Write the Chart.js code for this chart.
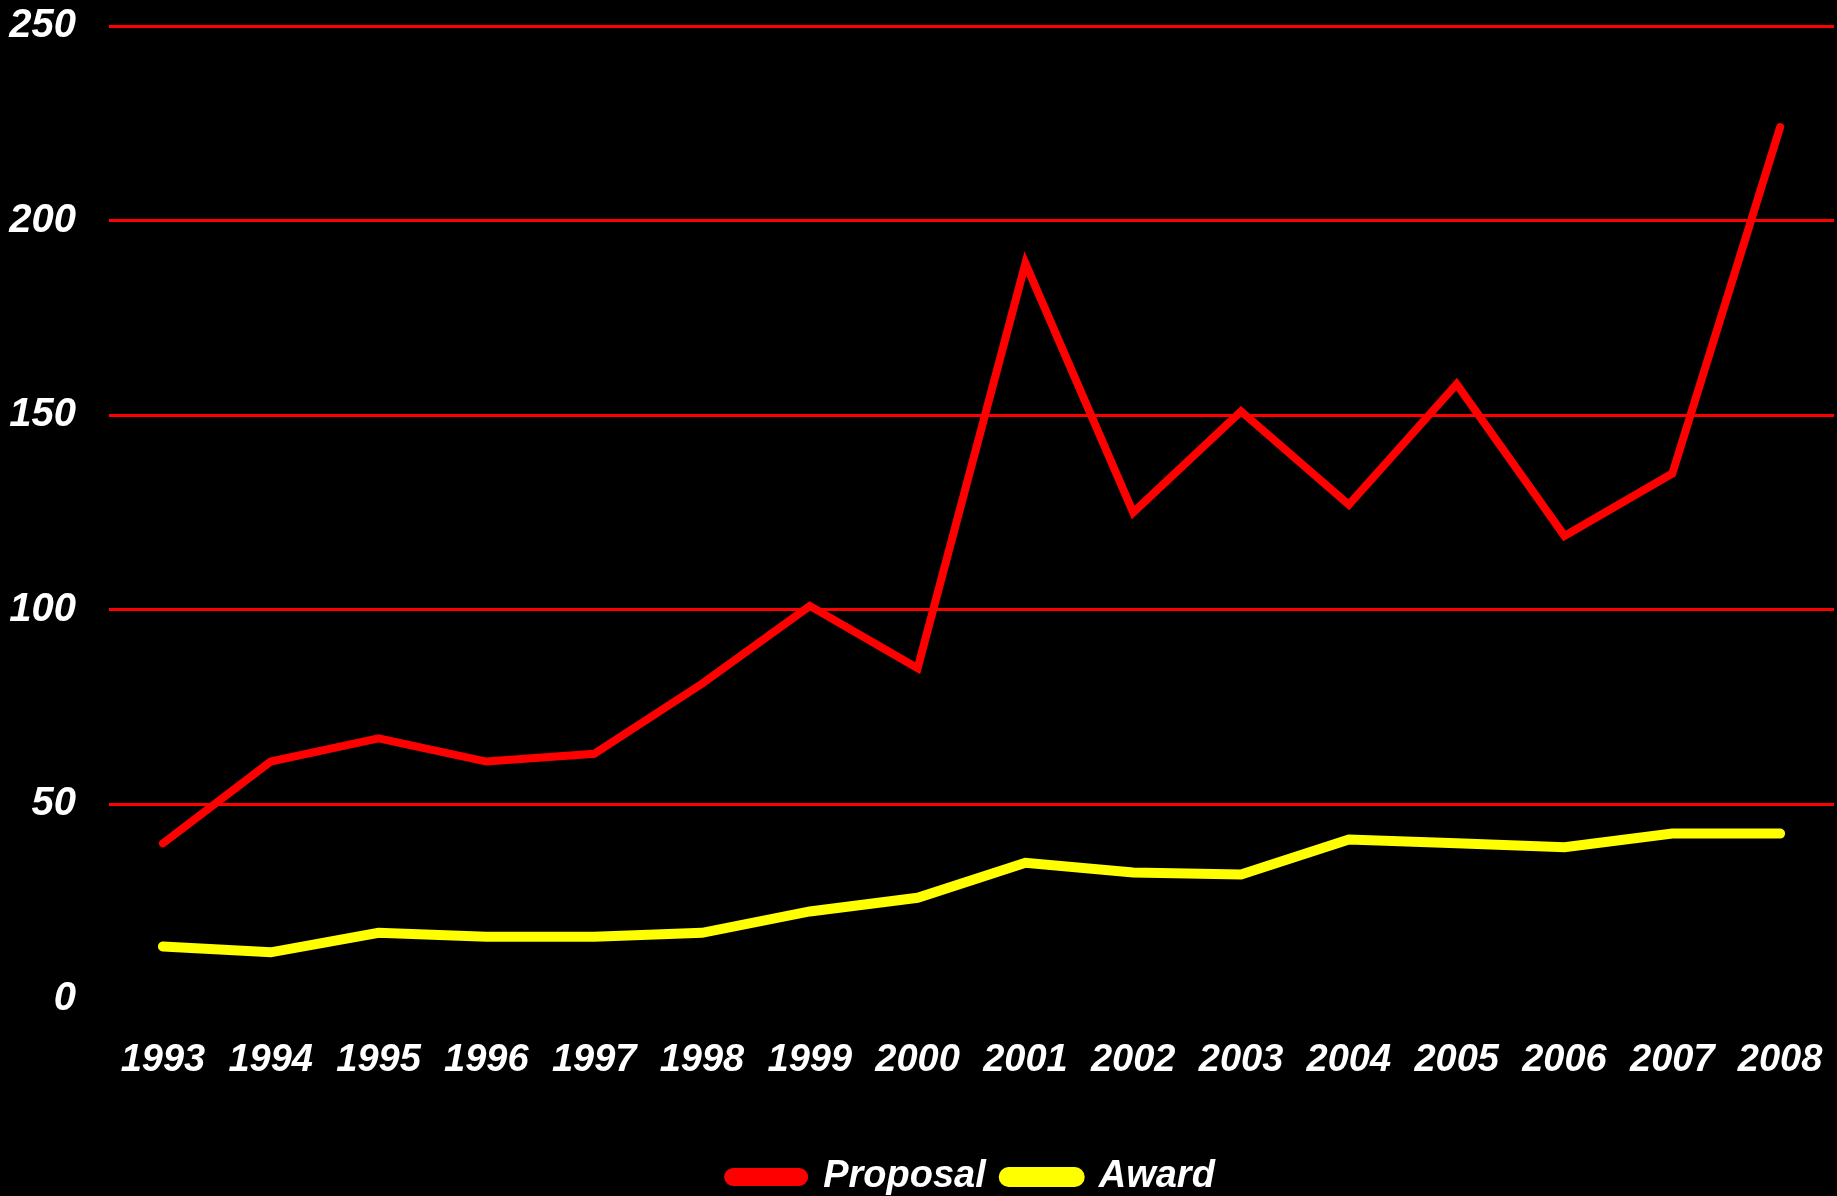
<!DOCTYPE html>
<html>
<head>
<meta charset="utf-8">
<script src="https://cdn.jsdelivr.net/npm/chart.js@4.4.1/dist/chart.umd.min.js"></script>
<style>
  html, body { margin: 0; padding: 0; background: #000; }
  #wrap { width: 1837px; height: 1196px; }
</style>
</head>
<body>
<div id="wrap"><canvas id="chart" width="1837" height="1196"></canvas></div>
<script>
const years = ['1993', '1994', '1995', '1996', '1997', '1998', '1999', '2000',
               '2001', '2002', '2003', '2004', '2005', '2006', '2007', '2008'];
const proposal = [40, 61, 67, 61, 63, 81, 101, 85, 189, 125, 151, 127, 158, 119, 135, 224];
const award = [13.5, 12, 17, 16, 16, 17, 22.5, 26, 35, 32.5, 32, 41, 40, 39, 42.5, 42.5];
const yTicks = [0, 50, 100, 150, 200, 250];

const ctx = document.getElementById('chart').getContext('2d');
new Chart(ctx, {
    type: 'line',
    data: {
        labels: years,
        datasets: [{
            label: 'Proposal',
            data: proposal,
            borderColor: '#ff0000',
            backgroundColor: '#ff0000',
            borderWidth: 8,
            borderCapStyle: 'round',
            pointRadius: 0,
            tension: 0
        }, {
            label: 'Award',
            data: award,
            borderColor: '#ffff00',
            backgroundColor: '#ffff00',
            borderWidth: 10,
            borderCapStyle: 'round',
            pointRadius: 0,
            tension: 0
        }]
    },
    options: {
        responsive: false,
        animation: false,
        layout: { autoPadding: false, padding: { top: 26, right: 3, left: 0, bottom: -10 } },
        scales: {
            x: {
                offset: true,
                grid: { display: false },
                border: { display: false },
                // fixed axis size so the plot bottom and labels sit where the original has them
                afterFit: axis => { axis.paddingLeft = 0; axis.paddingRight = 0; axis.height = 141; },
                ticks: {
                    color: '#ffffff',
                    padding: 31,
                    maxRotation: 0,
                    autoSkip: false,
                    font: { family: '"Liberation Sans"', size: 38, weight: 'bold', style: 'italic' }
                }
            },
            y: {
                min: 0,
                max: 250,
                afterBuildTicks: axis => { axis.ticks = yTicks.map(v => ({ value: v })); },
                afterFit: axis => { axis.paddingTop = 0; axis.paddingBottom = 0; axis.width = 109; },
                grid: {
                    color: c => c.tick && c.tick.value === 0 ? 'rgba(0,0,0,0)' : '#ff0000',
                    lineWidth: 3,
                    drawTicks: false
                },
                border: { display: false },
                ticks: {
                    color: '#ffffff',
                    padding: 33,
                    font: { family: '"Liberation Sans"', size: 40, weight: 'bold', style: 'italic' }
                }
            }
        },
        plugins: {
            legend: {
                position: 'bottom',
                fullSize: false,
                labels: {
                    color: '#ffffff',
                    boxWidth: 76,
                    boxHeight: 10,
                    useBorderRadius: true,
                    borderRadius: 5,
                    padding: 18,
                    font: { family: '"Liberation Sans"', size: 38, weight: 'bold', style: 'italic' }
                }
            },
            tooltip: { enabled: false }
        }
    }
});
</script>
</body>
</html>
